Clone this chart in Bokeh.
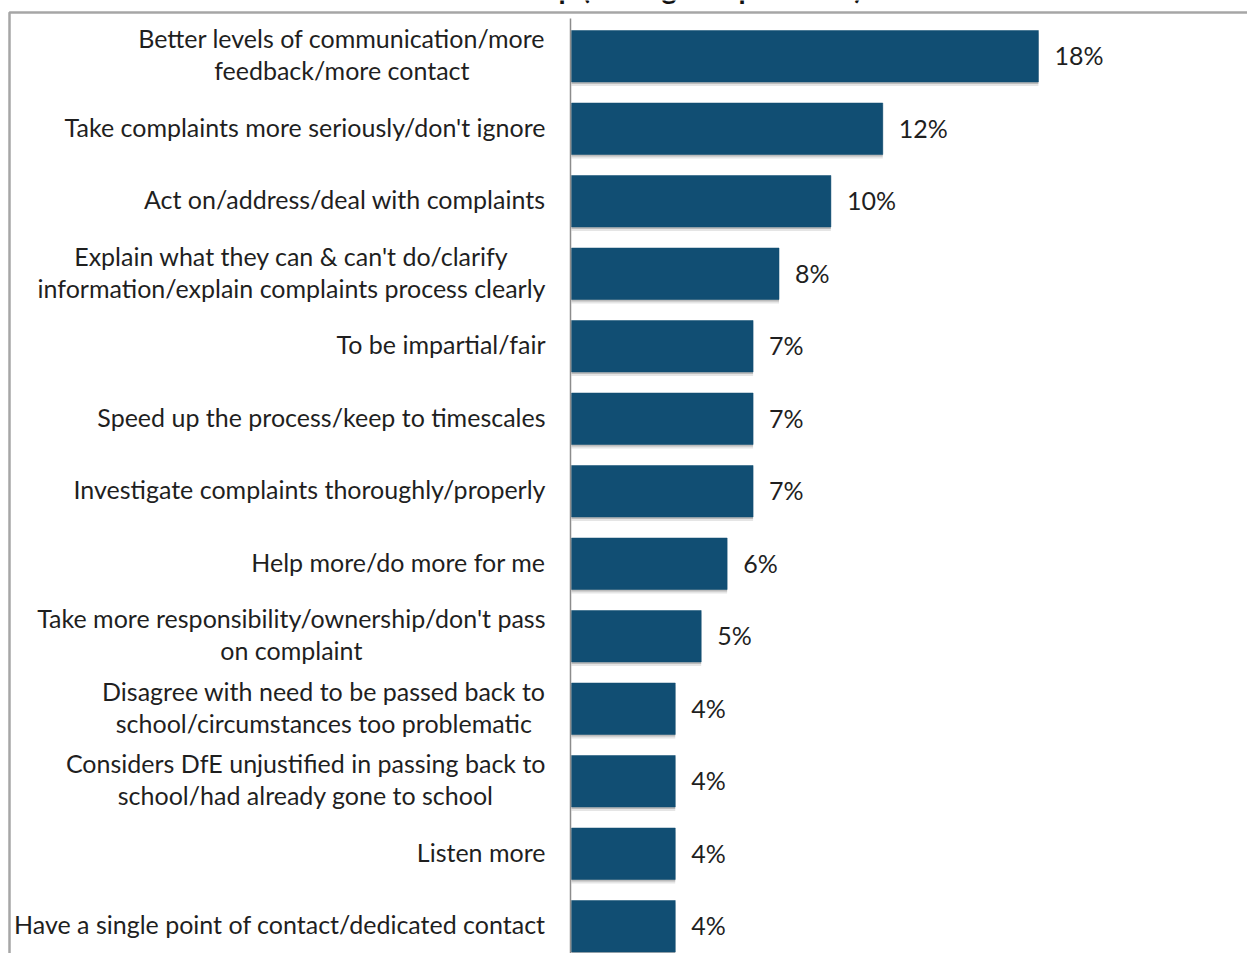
from bokeh.plotting import figure
from bokeh.models import Range1d, ColumnDataSource
from bokeh.core.properties import value
from bokeh.embed import file_html
from bokeh.resources import INLINE

# ---- data ----
categories = [
    "Better levels of communication/more\nfeedback/more contact",
    "Take complaints more seriously/don't ignore",
    "Act on/address/deal with complaints",
    "Explain what they can & can't do/clarify\ninformation/explain complaints process clearly",
    "To be impartial/fair",
    "Speed up the process/keep to timescales",
    "Investigate complaints thoroughly/properly",
    "Help more/do more for me",
    "Take more responsibility/ownership/don't pass\non complaint",
    "Disagree with need to be passed back to\nschool/circumstances too problematic",
    "Considers DfE unjustified in passing back to\nschool/had already gone to school",
    "Listen more",
    "Have a single point of contact/dedicated contact",
]
percentages = [18, 12, 10, 8, 7, 7, 7, 6, 5, 4, 4, 4, 4]
title_text = "What DfE could do to help (among complainants)"

# ---- layout helpers (pixel -> data) ----
W, H = 1247, 953
X0PX, XSCALE = 571.0, 25.94
Y0PX, YSTEP = 55.75, 72.5

def xd(px):
    return (px - X0PX) / XSCALE

def yd(py):
    return (py - Y0PX) / YSTEP

rows = list(range(len(categories)))
src = ColumnDataSource(dict(
    y=rows,
    v=percentages,
    cat=categories,
    lbl=[f"{v}%" for v in percentages],
    ys1=[r + 2.0 / YSTEP for r in rows],
    ys2=[r + 4.0 / YSTEP for r in rows],
))

p = figure(width=W, height=H, output_backend="svg", toolbar_location=None,
           x_range=Range1d(xd(0), xd(W)), y_range=Range1d(yd(H), yd(0)),
           min_border=0, x_axis_location=None, y_axis_location=None)
p.outline_line_color = None
p.grid.visible = False
p.background_fill_color = "white"
p.border_fill_color = "white"

# chart frame border (left and top edges visible)
p.line(x=[xd(9), xd(9), xd(W + 5)], y=[yd(H + 5), yd(12), yd(12)],
       line_color="#a6a6a6", line_width=2.5)

# partially visible title (clipped by the top of the picture, as in the source)
p.text(x=[xd(232)], y=[yd(-13)], text=[title_text], text_font=value("Lato"),
       text_font_style="bold", text_font_size="29px", text_color="#111111",
       text_baseline="middle", text_align="left")

# bar shadows
bh = 51.5 / YSTEP
p.hbar(y="ys2", left=0, right="v", height=bh, source=src,
       fill_color="#000000", fill_alpha=0.10, line_color=None)
p.hbar(y="ys1", left=0, right="v", height=bh, source=src,
       fill_color="#000000", fill_alpha=0.18, line_color=None)
# bars
p.hbar(y="y", left=0, right="v", height=bh, source=src,
       fill_color="#114e73", line_color="#114e73", line_width=0.5)

# category axis line
p.segment(x0=[xd(570)], y0=[yd(18)], x1=[xd(570)], y1=[yd(H + 5)],
          line_color="#8c8c8c", line_width=1.5)

# category labels
p.text(x=xd(545), y="y", text="cat", source=src, y_offset=-2,
       anchor=value("center_right"), text_align="center",
       text_line_height=1.067, text_font=value("Lato"),
       text_font_size="25px", text_color="#1f1f1f")

# value labels
p.text(x="v", y="y", text="lbl", source=src, x_offset=16, y_offset=-1,
       text_align="left", text_baseline="middle",
       text_font=value("Lato"), text_font_size="25px", text_color="#1f1f1f")

open("out.html", "w").write(file_html(p, INLINE))
